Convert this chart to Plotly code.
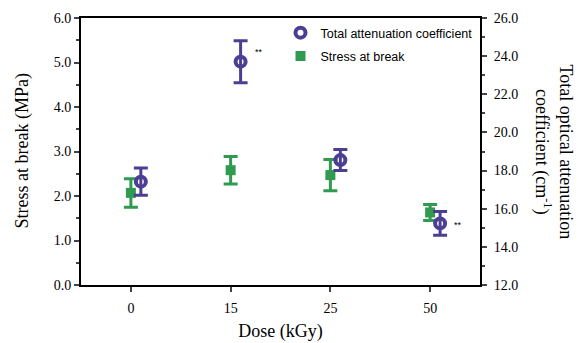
import plotly.graph_objects as go

doses = ["0", "15", "25", "50"]
stress = [2.07, 2.58, 2.47, 1.63]
stress_err = [0.32, 0.31, 0.35, 0.18]
atten = [17.42, 23.71, 18.55, 15.23]
atten_err = [0.72, 1.1, 0.55, 0.62]
sig_marks = ["", "**", "", "**"]

blue = "#4b3e93"
green = "#2f9a50"
serif = "Liberation Serif, Times New Roman, serif"
sans = "Liberation Sans, Arial, sans-serif"

idx = list(range(len(doses)))
offset = 0.1

fig = go.Figure()
fig.add_trace(go.Scatter(
    x=idx, y=stress, mode="markers", name="Stress at break",
    marker=dict(symbol="square", size=10, color=green),
    error_y=dict(type="data", array=stress_err, color=green, thickness=3, width=7),
    yaxis="y", legendrank=2, legendgroup="s",
))
fig.add_trace(go.Scatter(
    x=[i + offset for i in idx], y=atten, mode="markers", name="Total attenuation coefficient",
    marker=dict(symbol="circle-open", size=10, color=blue, line=dict(width=4, color=blue)),
    error_y=dict(type="data", array=atten_err, color=blue, thickness=3, width=7),
    yaxis="y2", legendrank=1, legendgroup="a",
))

for i, s in enumerate(sig_marks):
    if s:
        fig.add_annotation(x=i + offset, y=atten[i], xref="x", yref="y2", text=s,
                           showarrow=False, xshift=18, yshift=10 if i == 1 else -2,
                           font=dict(family=sans, size=9, color="black"))

# page body has an 8px default margin, so the figure is offset by 8px
fig.update_layout(
    width=575, height=335,
    margin=dict(l=73, r=103, t=10, b=58, autoexpand=False),
    paper_bgcolor="white", plot_bgcolor="white",
    showlegend=True,
    legend=dict(x=0.5, y=1.0, xanchor="left", yanchor="top",
                font=dict(family=sans, size=12.5, color="black"),
                bgcolor="rgba(0,0,0,0)", itemwidth=30, tracegroupgap=4),
    xaxis=dict(range=[-0.5, 3.5], tickvals=idx, ticktext=doses,
               showline=True, linecolor="black", linewidth=2, mirror=True,
               ticks="outside", ticklen=5, tickwidth=2, showgrid=False, zeroline=False,
               ticklabelstandoff=4,
               tickfont=dict(family=serif, size=14, color="black"),
               title=dict(text="Dose (kGy)", font=dict(family=serif, size=18, color="black"), standoff=10)),
    yaxis=dict(range=[0, 6], dtick=1, tickformat=".1f",
               showline=True, linecolor="black", linewidth=2,
               ticks="outside", ticklen=5, tickwidth=2, showgrid=False, zeroline=False,
               minor=dict(dtick=0.5, ticks="outside", ticklen=3, tickwidth=1.5, showgrid=False),
               tickfont=dict(family=serif, size=14, color="black")),
    yaxis2=dict(range=[12, 26], dtick=2, tickformat=".1f", overlaying="y", side="right",
                showline=True, linecolor="black", linewidth=2,
                ticks="outside", ticklen=5, tickwidth=2, showgrid=False, zeroline=False,
                ticklabelstandoff=4,
                minor=dict(dtick=1, ticks="outside", ticklen=3, tickwidth=1.5, showgrid=False),
                tickfont=dict(family=serif, size=14, color="black")),
)

fig.add_annotation(x=(22 - 81) / 399, y=0.5, xref="paper", yref="paper", text="Stress at break (MPa)",
                   showarrow=False, textangle=-90, xanchor="center", yanchor="middle",
                   font=dict(family=serif, size=18, color="black"))
fig.add_annotation(x=(554 - 81) / 399, y=0.5, xref="paper", yref="paper",
                   text="Total optical attenuation<br>coefficient (cm<sup>-1</sup>)",
                   showarrow=False, textangle=90, xanchor="center", yanchor="middle",
                   font=dict(family=serif, size=18, color="black"))

fig.write_html("out.html")
